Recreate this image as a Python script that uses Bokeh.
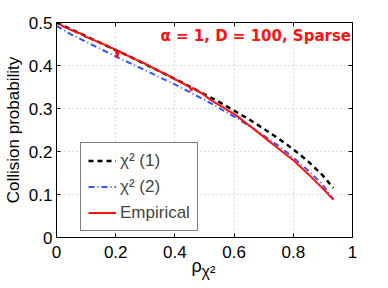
from bokeh.plotting import figure
from bokeh.models import Range1d, LinearAxis, Label, Legend, LegendItem, FixedTicker, Title
from bokeh.embed import file_html
from bokeh.resources import INLINE

# --- data ---
rho_theory = [0.0, 0.05, 0.1, 0.15, 0.2, 0.25, 0.3, 0.35, 0.4, 0.45, 0.5,
              0.55, 0.6, 0.65, 0.7, 0.75, 0.8, 0.85, 0.9, 0.935]
chi2_1 = [0.500, 0.484, 0.468, 0.452, 0.436, 0.420, 0.403, 0.386, 0.369, 0.351, 0.333,
          0.315, 0.295, 0.275, 0.253, 0.230, 0.205, 0.177, 0.144, 0.115]
chi2_2 = [0.492, 0.472, 0.455, 0.438, 0.421, 0.405, 0.389, 0.372, 0.356, 0.338, 0.320,
          0.301, 0.281, 0.260, 0.237, 0.213, 0.186, 0.156, 0.122, 0.089]

rho_emp = [0.01, 0.02, 0.03, 0.04, 0.05, 0.06, 0.07, 0.08, 0.09, 0.10,
           0.11, 0.12, 0.13, 0.14, 0.15, 0.16, 0.17, 0.18, 0.19, 0.20,
           0.205, 0.21, 0.22, 0.24, 0.26, 0.28, 0.30, 0.32, 0.34, 0.36,
           0.38, 0.40, 0.42, 0.44, 0.45, 0.455, 0.46, 0.48, 0.50, 0.52,
           0.54, 0.56, 0.58, 0.60, 0.62, 0.64, 0.66, 0.68, 0.70, 0.72,
           0.74, 0.76, 0.78, 0.80, 0.82, 0.84, 0.86, 0.88, 0.90, 0.92, 0.935]
empirical = [0.497, 0.492, 0.488, 0.486, 0.482, 0.480, 0.476, 0.475, 0.470, 0.466,
             0.464, 0.461, 0.458, 0.455, 0.452, 0.449, 0.447, 0.442, 0.440, 0.437,
             0.418, 0.434, 0.430, 0.423, 0.416, 0.410, 0.404, 0.396, 0.389, 0.383,
             0.376, 0.368, 0.361, 0.354, 0.350, 0.341, 0.348, 0.340, 0.331, 0.320,
             0.312, 0.304, 0.295, 0.287, 0.277, 0.266, 0.256, 0.245, 0.234, 0.223,
             0.212, 0.201, 0.190, 0.180, 0.167, 0.154, 0.141, 0.127, 0.114, 0.099, 0.088]

x_ticks = [0, 0.2, 0.4, 0.6, 0.8, 1]
x_tick_labels = ["0", "0.2", "0.4", "0.6", "0.8", "1"]
y_ticks = [0, 0.1, 0.2, 0.3, 0.4, 0.5]
y_tick_labels = ["0", "0.1", "0.2", "0.3", "0.4", "0.5"]

series_labels = ["\u03c7\u00b2 (1)", "\u03c7\u00b2 (2)", "Empirical"]
annotation = "\u03b1 = 1, D = 100, Sparse"
x_label_main = "\u03c1"
x_label_sub = "\u03c7\u00b2"

FONT = "Liberation Sans"

p = figure(width=372, height=288, output_backend="svg", toolbar_location=None,
           x_range=Range1d(0, 1), y_range=Range1d(0, 0.5),
           min_border_left=54, min_border_right=20, min_border_top=22, min_border_bottom=51)

p.outline_line_color = "black"
p.outline_line_width = 1
p.background_fill_color = "white"
p.border_fill_color = "white"

for ax, ticks, labels in ((p.xaxis[0], x_ticks, x_tick_labels), (p.yaxis[0], y_ticks, y_tick_labels)):
    ax.ticker = FixedTicker(ticks=ticks)
    ax.major_label_overrides = {t: l for t, l in zip(ticks, labels)}
    ax.major_label_text_font = FONT
    ax.major_label_text_font_size = "17px"
    ax.major_label_text_color = "black"
    ax.major_tick_in = 4
    ax.major_tick_out = 0
    ax.minor_tick_line_color = None
    ax.axis_line_color = "black"
p.xaxis[0].major_label_standoff = 8
p.yaxis[0].major_label_standoff = 4

p.yaxis[0].axis_label = "Collision probability"
p.yaxis[0].axis_label_text_font = FONT
p.yaxis[0].axis_label_text_font_size = "17px"
p.yaxis[0].axis_label_text_font_style = "normal"
p.yaxis[0].axis_label_text_color = "black"
p.yaxis[0].axis_label_standoff = 3

# box ticks on top and right
for loc, ticks in (("right", y_ticks), ("above", x_ticks)):
    ax = LinearAxis(ticker=FixedTicker(ticks=ticks), major_label_text_font_size="0px",
                    major_tick_in=4, major_tick_out=0, minor_tick_line_color=None,
                    axis_line_color="black", major_label_standoff=0)
    p.add_layout(ax, loc)

# x label: rho with chi^2 as subscript
p.add_layout(Title(text=x_label_main, align="left", offset=135, standoff=-13,
                   text_font=FONT, text_font_size="18px", text_font_style="normal",
                   text_color="black"), "below")
p.add_layout(Title(text=x_label_sub, align="left", offset=145, standoff=-20,
                   text_font=FONT, text_font_size="16px", text_font_style="normal",
                   text_color="black"), "below")

for g in (p.xgrid[0], p.ygrid[0]):
    g.grid_line_color = "#bdbdbd"
    g.grid_line_dash = "1 3"
    g.grid_line_width = 1
p.xgrid[0].ticker = FixedTicker(ticks=x_ticks)
p.ygrid[0].ticker = FixedTicker(ticks=y_ticks)

r1 = p.line(rho_theory, chi2_1, line_color="black", line_width=2.5, line_dash="5 4")
r2 = p.line(rho_theory, chi2_2, line_color="#3355ff", line_width=2, line_dash="6 3 1 3")
r3 = p.line(rho_emp, empirical, line_color="#ff1111", line_width=2)

legend = Legend(items=[LegendItem(label=series_labels[0], renderers=[r1]),
                       LegendItem(label=series_labels[1], renderers=[r2]),
                       LegendItem(label=series_labels[2], renderers=[r3])],
                location=(24, 6), label_text_font=FONT, label_text_font_size="17px",
                glyph_width=28, glyph_height=21, label_height=21, spacing=5,
                padding=7, label_standoff=4, border_line_color="black",
                border_line_width=1, background_fill_alpha=1.0, margin=0)
p.add_layout(legend, "center")

p.add_layout(Label(x=0.995, y=0.468, text=annotation, text_align="right",
                   text_baseline="middle", text_color="#ff1111", text_font="DejaVu Sans",
                   text_font_size="15px", text_font_style="bold"))

open("out.html", "w").write(file_html(p, INLINE))
